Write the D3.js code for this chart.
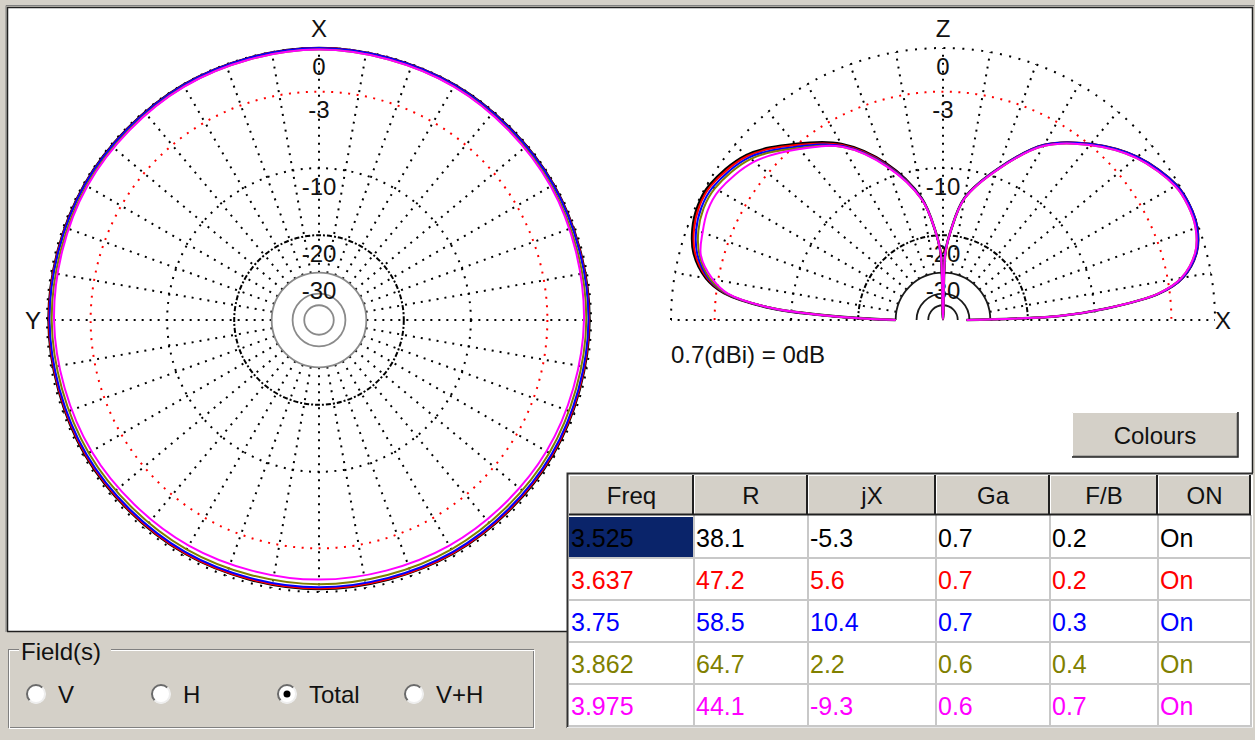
<!DOCTYPE html>
<html>
<head>
<meta charset="utf-8">
<script src="https://cdn.jsdelivr.net/npm/d3@7"></script>
<style>
  html, body { margin: 0; padding: 0; background: #d4d0c8; overflow: hidden; }
  svg { display: block; }
  text { font-family: "Liberation Sans", Arial, sans-serif; }
</style>
</head>
<body>
<script>
// datos de la tabla (una fila por frecuencia)
const tableHeaders = ["Freq", "R", "jX", "Ga", "F/B", "ON"];
const freqs = ["3.525", "3.637", "3.75", "3.862", "3.975"];
const rVals = ["38.1", "47.2", "58.5", "64.7", "44.1"];
const jxVals = ["-5.3", "5.6", "10.4", "2.2", "-9.3"];
const gaVals = ["0.7", "0.7", "0.7", "0.6", "0.6"];
const fbVals = ["0.2", "0.2", "0.3", "0.4", "0.7"];
const onVals = ["On", "On", "On", "On", "On"];

// anillos de la rejilla (dB) y etiquetas
const ringLevels = [0, -3, -10, -20, -30, -40, -50];
const ringLabels = [0, -3, -10, -20, -30];
const refLabel = "0.7(dBi) = 0dB";
const fieldOptions = ["V", "H", "Total", "V+H"];
const fieldSelected = "Total";

// diagrama horizontal (acimut, grados desde X hacia Y), dB
const azAngles = [0, 30, 60, 90, 120, 150, 180, 210, 240, 270, 300, 330];
const azBlack   = [0, -0.03, -0.07, -0.1, -0.13, -0.17, -0.2, -0.17, -0.13, -0.1, -0.07, -0.03];
const azRed     = [0, -0.04, -0.08, -0.12, -0.16, -0.2, -0.22, -0.2, -0.16, -0.12, -0.08, -0.04];
const azBlue    = [0, -0.05, -0.1, -0.16, -0.22, -0.27, -0.3, -0.27, -0.22, -0.16, -0.1, -0.05];
const azOlive   = [-0.1, -0.14, -0.22, -0.3, -0.39, -0.46, -0.5, -0.46, -0.39, -0.3, -0.22, -0.14];
const azMagenta = [-0.1, -0.16, -0.28, -0.45, -0.6, -0.74, -0.8, -0.74, -0.6, -0.45, -0.28, -0.16];

// diagrama vertical (elevación, grados desde el horizonte X), dB
const elAngles = [0, 2, 4, 7, 10, 15, 20, 25, 30, 40, 50, 60, 70, 80, 85, 88, 90,
                  92, 95, 100, 110, 120, 130, 140, 150, 155, 160, 165, 170, 173, 176, 178, 180];
const elBlack   = [-42, -14.5, -8.7, -3.8, -1.9, -0.6, -0.1, 0, -0.15, -1.2, -2.9, -5.1, -9.0, -13.5, -19, -24, -99,
                   -24, -19, -13.5, -8.4, -5.0, -2.9, -1.0, -0.15, -0.1, -0.35, -0.9, -2.1, -3.6, -7.7, -15.5, -30];
const elRed     = [-42, -14.5, -8.7, -3.8, -1.9, -0.6, -0.1, 0, -0.15, -1.2, -2.9, -5.1, -9.0, -13.5, -19, -24, -99,
                   -24, -19, -13.6, -8.5, -5.1, -3.0, -1.1, -0.25, -0.2, -0.45, -1.0, -2.2, -3.7, -7.8, -15.5, -30];
const elBlue    = [-42, -14.5, -8.7, -3.8, -1.9, -0.6, -0.1, 0, -0.15, -1.2, -2.9, -5.1, -9.0, -13.5, -19, -24, -99,
                   -24, -19, -13.6, -8.6, -5.2, -3.15, -1.25, -0.4, -0.35, -0.6, -1.15, -2.3, -3.75, -7.8, -15.5, -30];
const elOlive   = [-42, -14.6, -8.8, -3.9, -2.0, -0.7, -0.2, -0.1, -0.25, -1.3, -3.0, -5.2, -9.1, -13.6, -19, -24, -99,
                   -24, -19, -13.7, -8.7, -5.3, -3.3, -1.4, -0.55, -0.5, -0.75, -1.3, -2.4, -3.8, -7.9, -15.6, -30];
const elMagenta = [-42, -14.6, -8.8, -3.9, -2.0, -0.7, -0.2, -0.1, -0.25, -1.3, -3.0, -5.2, -9.1, -13.6, -19, -24, -99,
                   -24, -19, -13.7, -8.8, -5.3, -3.4, -1.7, -0.85, -0.8, -1.05, -1.4, -2.6, -3.9, -7.9, -15.6, -30];

const seriesColors = ["#000000", "#ff0000", "#0000ff", "#808000", "#ff00ff"];
const azSeries = [azBlack, azRed, azBlue, azOlive, azMagenta];
const elSeries = [elBlack, elRed, elBlue, elOlive, elMagenta];

const W = 1255, H = 740;
const R = 272;
const grey = "#d4d0c8";

const svg = d3.select("body").append("svg")
  .attr("width", W)
  .attr("height", H);

svg.append("rect").attr("width", W).attr("height", H).attr("fill", grey);

// panel blanco
svg.append("rect").attr("x", 7).attr("y", 7).attr("width", 1246).attr("height", 625).attr("fill", "#fff");
svg.append("path").attr("d", "M6,632 V5.5 H1254").attr("fill", "none").attr("stroke", "#808080").attr("stroke-width", 1);
svg.append("path").attr("d", "M7.5,631.5 V7.5 H1252.5 V473").attr("fill", "none").attr("stroke", "#202020").attr("stroke-width", 1.5);
svg.append("line").attr("x1", 7).attr("x2", 567).attr("y1", 631.5).attr("y2", 631.5).attr("stroke", "#202020").attr("stroke-width", 1.5);

// escala ARRL: radio proporcional a potencia^0.2531
const rScale = d3.scalePow().exponent(0.2531).domain([0, 1]).range([0, R]);
const rad = dB => rScale(Math.pow(10, dB / 10));

function ringStyle(sel, level, inner) {
  if (level === 0) sel.attr("stroke", "#000").attr("stroke-width", 2).attr("stroke-dasharray", "2,7.5");
  else if (level === -3) sel.attr("stroke", "#ff0000").attr("stroke-width", 2).attr("stroke-dasharray", "2,6.5");
  else if (level === -10) sel.attr("stroke", "#000").attr("stroke-width", 2).attr("stroke-dasharray", "2,6.5");
  else if (level === -20) sel.attr("stroke", "#000").attr("stroke-width", 2).attr("stroke-dasharray", "5,2,2,2");
  else sel.attr("stroke", inner).attr("stroke-width", 1.8);
}

function drawGrid(g, full, innerColor) {
  // radios cada 10 grados
  const spokes = full ? d3.range(0, 360, 10) : d3.range(0, 181, 10);
  spokes.forEach(a => {
    const t = a * Math.PI / 180;
    g.append("line")
      .attr("x1", rad(-30) * Math.cos(t)).attr("y1", -rad(-30) * Math.sin(t))
      .attr("x2", rad(0) * Math.cos(t)).attr("y2", -rad(0) * Math.sin(t))
      .attr("stroke", "#000").attr("stroke-width", 2).attr("stroke-dasharray", "2,6");
  });
  ringLevels.forEach(l => {
    const r = rad(l);
    let el;
    if (full) {
      el = g.append("circle").attr("r", r);
    } else {
      const p = d3.path();
      p.arc(0, 0, r, Math.PI, 2 * Math.PI);
      el = g.append("path").attr("d", p.toString());
    }
    el.attr("fill", "none");
    ringStyle(el, l, innerColor);
  });
  ringLabels.forEach(l => {
    g.append("text")
      .attr("x", 0)
      .attr("y", -rad(l) + 18)
      .attr("dy", "0.36em")
      .attr("text-anchor", "middle")
      .style("font-size", "24px")
      .attr("fill", "#111")
      .text(l);
  });
}

// diagrama izquierdo (acimut)
const gAz = svg.append("g").attr("transform", "translate(319,320)");
drawGrid(gAz, true, "#8a8a8a");

const azLine = d3.lineRadial()
  .angle((d, i) => -azAngles[i] * Math.PI / 180)
  .radius(d => rad(d))
  .curve(d3.curveCatmullRomClosed);

azSeries.forEach((s, i) => {
  gAz.append("path")
    .attr("d", azLine(s))
    .attr("fill", "none")
    .attr("stroke", seriesColors[i])
    .attr("stroke-width", i === 0 ? 2.6 : 2);
});

svg.append("text").attr("x", 319).attr("y", 28).attr("dy", "0.36em").attr("text-anchor", "middle")
  .style("font-size", "24px").attr("fill", "#111").text("X");
svg.append("text").attr("x", 33).attr("y", 320).attr("dy", "0.36em").attr("text-anchor", "middle")
  .style("font-size", "24px").attr("fill", "#111").text("Y");

// diagrama derecho (elevación)
const gEl = svg.append("g").attr("transform", "translate(943,320)");
drawGrid(gEl, false, "#1a1a1a");

const elLine = d3.lineRadial()
  .angle((d, i) => (90 - elAngles[i]) * Math.PI / 180)
  .radius(d => rad(d))
  .curve(d3.curveCatmullRom.alpha(0.5));

elSeries.forEach((s, i) => {
  gEl.append("path")
    .attr("d", elLine(s))
    .attr("fill", "none")
    .attr("stroke", seriesColors[i])
    .attr("stroke-width", i === 0 ? 2.6 : 2);
});

svg.append("text").attr("x", 943).attr("y", 28).attr("dy", "0.36em").attr("text-anchor", "middle")
  .style("font-size", "24px").attr("fill", "#111").text("Z");
svg.append("text").attr("x", 1223).attr("y", 320).attr("dy", "0.36em").attr("text-anchor", "middle")
  .style("font-size", "24px").attr("fill", "#111").text("X");
svg.append("text").attr("x", 671).attr("y", 354).attr("dy", "0.36em")
  .style("font-size", "24px").attr("fill", "#111").text(refLabel);

// botón Colours
const btn = svg.append("g").attr("transform", "translate(1072,412)");
btn.append("rect").attr("width", 166).attr("height", 45).attr("fill", grey);
btn.append("path").attr("d", "M0.5,44 V0.5 H165").attr("fill", "none").attr("stroke", "#fff").attr("stroke-width", 1);
btn.append("path").attr("d", "M1,44 H165 V1").attr("fill", "none").attr("stroke", "#808080").attr("stroke-width", 1);
btn.append("path").attr("d", "M0,45 H166 V0").attr("fill", "none").attr("stroke", "#202020").attr("stroke-width", 1.5);
btn.append("text").attr("x", 83).attr("y", 23).attr("dy", "0.36em").attr("text-anchor", "middle")
  .style("font-size", "24px").attr("fill", "#111").text("Colours");

// tabla
const colEdges = [569, 694, 808, 936, 1050, 1158, 1251];
const rowTop = i => 516 + 42 * i;
const table = svg.append("g");
table.append("rect").attr("x", 567).attr("y", 473).attr("width", 686).attr("height", 255).attr("fill", "#fff");
table.append("rect").attr("x", 569).attr("y", 475).attr("width", 682).attr("height", 40).attr("fill", grey);
const cols = [freqs, rVals, jxVals, gaVals, fbVals, onVals];

// celda seleccionada
table.append("rect").attr("x", colEdges[0]).attr("y", rowTop(0) + 1).attr("width", colEdges[1] - colEdges[0] - 1).attr("height", 40)
  .attr("fill", "#0a246a");

// rejilla de celdas
for (let i = 1; i <= 5; i++) {
  table.append("line").attr("x1", 569).attr("x2", 1251).attr("y1", rowTop(i)).attr("y2", rowTop(i))
    .attr("stroke", "#c8c8c8").attr("stroke-width", 2);
}
colEdges.slice(1).forEach(x => {
  table.append("line").attr("x1", x).attr("x2", x).attr("y1", 515).attr("y2", 727)
    .attr("stroke", "#c8c8c8").attr("stroke-width", 2);
});
// cabecera en relieve
colEdges.slice(0, -1).forEach((x, j) => {
  const x2 = colEdges[j + 1];
  table.append("path").attr("d", `M${x + 0.5},514 V475.5 H${x2 - 2}`).attr("fill", "none").attr("stroke", "#fff");
  table.append("path").attr("d", `M${x},514.5 H${x2 - 1} V475`).attr("fill", "none").attr("stroke", "#202020").attr("stroke-width", 2);
  table.append("text").attr("x", (x + x2) / 2).attr("y", 495).attr("dy", "0.36em").attr("text-anchor", "middle")
    .style("font-size", "24px").attr("fill", "#111").text(tableHeaders[j]);
});
cols.forEach((col, j) => {
  col.forEach((v, i) => {
    table.append("text")
      .attr("x", colEdges[j] + 2)
      .attr("y", rowTop(i) + 22)
      .attr("dy", "0.36em")
      .style("font-size", "25px")
      .attr("fill", i === 0 && j === 0 ? "#000" : seriesColors[i])
      .text(v);
  });
});
table.append("path").attr("d", "M567.5,728 V473.5 H1253").attr("fill", "none").attr("stroke", "#303030").attr("stroke-width", 2);
table.append("line").attr("x1", 567).attr("x2", 1253).attr("y1", 727.5).attr("y2", 727.5).attr("stroke", "#e8e8e8");

// grupo Field(s)
const grp = svg.append("g");
grp.append("rect").attr("x", 8.5).attr("y", 649.5).attr("width", 525).attr("height", 78).attr("fill", "none").attr("stroke", "#808080");
grp.append("rect").attr("x", 9.5).attr("y", 650.5).attr("width", 525).attr("height", 78).attr("fill", "none").attr("stroke", "#fff");
grp.append("rect").attr("x", 19).attr("y", 638).attr("width", 92).attr("height", 24).attr("fill", grey);
grp.append("text").attr("x", 21).attr("y", 651).attr("dy", "0.36em")
  .style("font-size", "24px").attr("fill", "#111").text("Field(s)");

const radioX = [36, 161, 287, 414];
fieldOptions.forEach((f, i) => {
  const cx = radioX[i], cy = 694;
  grp.append("circle").attr("cx", cx).attr("cy", cy).attr("r", 9.5).attr("fill", "#fff");
  const arcTL = d3.path(); arcTL.arc(cx, cy, 9, Math.PI * 0.75, Math.PI * 1.75);
  const arcBR = d3.path(); arcBR.arc(cx, cy, 9, -Math.PI * 0.25, Math.PI * 0.75);
  grp.append("path").attr("d", arcTL.toString()).attr("fill", "none").attr("stroke", "#6a6a6a").attr("stroke-width", 2);
  grp.append("path").attr("d", arcBR.toString()).attr("fill", "none").attr("stroke", "#eeeeee").attr("stroke-width", 2);
  if (f === fieldSelected) {
    grp.append("circle").attr("cx", cx).attr("cy", cy).attr("r", 3.5).attr("fill", "#000");
  }
  grp.append("text").attr("x", cx + 22).attr("y", cy).attr("dy", "0.36em")
    .style("font-size", "24px").attr("fill", "#111").text(f);
});
</script>
</body>
</html>
